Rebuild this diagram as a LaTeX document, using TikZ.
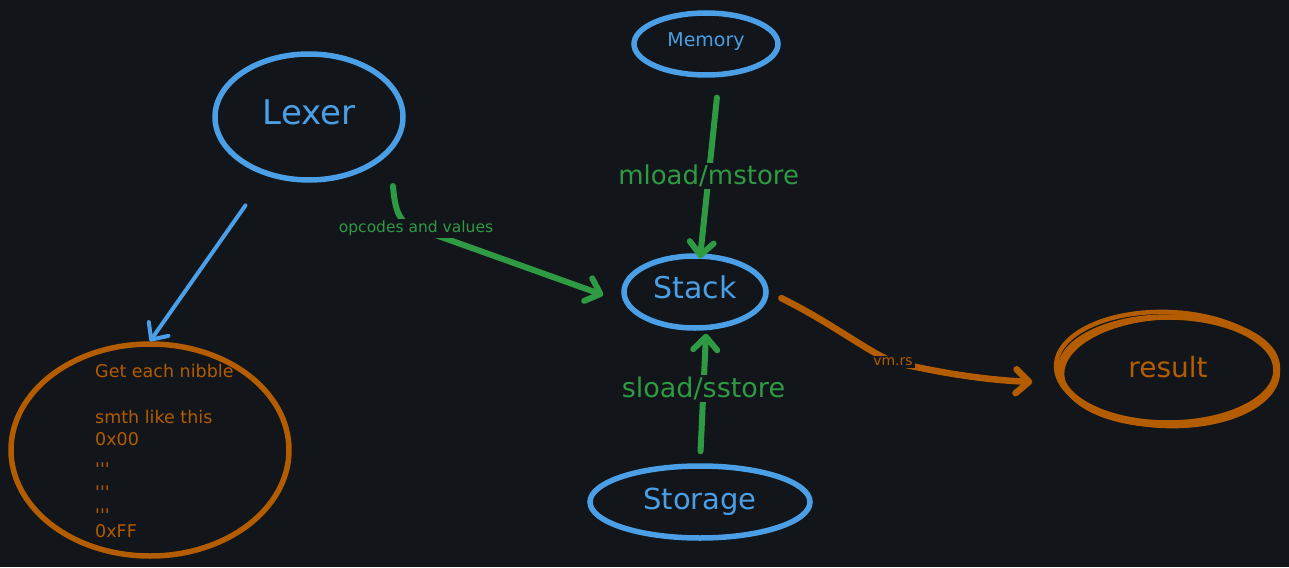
\documentclass[tikz,border=0pt]{standalone}
\usepackage{fontspec}
\setmainfont{DejaVu Sans}
\usetikzlibrary{arrows.meta,shapes.geometric}
\definecolor{bg}{HTML}{121519}
\definecolor{cblue}{HTML}{4A9FE6}
\definecolor{cgreen}{HTML}{2F9A44}
\definecolor{corange}{HTML}{B35C00}
\newcommand\fsz[1]{\fontsize{#1}{#1}\selectfont}
\newcommand\ticks{\raisebox{-7pt}{\textquotesingle\textquotesingle\textquotesingle}}
\newcommand\up[2]{\raisebox{#1}[\height][\depth]{#2}}
\begin{document}
\begin{tikzpicture}[x=1pt,y=-1pt,
  bubble/.style={ellipse, draw=cblue, line width=5.5pt, text=cblue, inner sep=0pt},
  obubble/.style={ellipse, draw=corange, line width=5.5pt, text=corange, inner sep=0pt},
  tipbarb/.style={-{Straight Barb[length=13pt,width=24pt,round]}},
  gconn/.style={draw=cgreen, line width=6pt, line cap=round, tipbarb},
  bconn/.style={draw=cblue, line width=4pt, line cap=round, tipbarb},
  oconn/.style={draw=corange, line width=6.5pt, line cap=round, tipbarb},
  glbl/.style={fill=bg, inner sep=2pt, text=cgreen},
  olbl/.style={fill=bg, inner sep=2pt, text=corange, font=\fsz{14}}]
\fill[bg] (0,0) rectangle (1289,567);
\useasboundingbox (0,0) rectangle (1289,567);

\node[bubble, minimum width=188, minimum height=126, font=\fsz{34}] (lexer) at (309,117) {\up{5pt}{Lexer}};
\node[bubble, minimum width=144, minimum height=62, font=\fsz{19}] (mem) at (706,44) {\up{2pt}{Memory}};
\node[bubble, minimum width=142, minimum height=72, font=\fsz{30}] (stack) at (695,292) {\up{5pt}{Stack}};
\node[bubble, minimum width=220, minimum height=72, font=\fsz{29}] (storage) at (700,502) {Storage};
\node[obubble, minimum width=216, minimum height=106, font=\fsz{28}] (result) at (1168,370) {\up{3pt}{result}};
\draw[corange, line width=4.5pt] ([shift={(-1,-1)}]result.center) ellipse [x radius=111, y radius=57, rotate=-2];
\draw[corange, line width=4.5pt] ([shift={(2,1)}]result.center) ellipse [x radius=108, y radius=54, rotate=2];
\node[obubble, minimum width=278, minimum height=212] (nibble) at (150,450) {};
\node[anchor=north west, align=left, text=corange, inner sep=0pt,
      font=\fontsize{17.5}{22.8}\selectfont] (nibtext) at (95,364)
  {Get each nibble\\[22.8pt]smth like this\\0x00\\
   \ticks\\ \ticks\\ \ticks\\0xFF};

\draw[bconn, shorten <=36] (lexer.-126) -- (nibble.north);

\coordinate (c1) at (393,186);
\draw[gconn] (c1) .. controls (395,212) and (400,224) .. (416,228)
  node[glbl, font=\fsz{15.5}] {opcodes and values}
  -- ([shift={(-18,3)}]stack.west);

\draw[gconn, shorten <=20] ([shift={(13,0)}]mem.south) --
  node[pos=0.545, glbl, font=\fsz{26}] {mload/mstore} ([shift={(5,5)}]stack.north);

\draw[gconn, shorten <=12] (storage.north) --
  node[pos=0.574, glbl, font=\fsz{27}] {sload/sstore} ([shift={(11,3)}]stack.south);

\draw[oconn, shorten <=14] (stack.east) .. controls (830,322) and (865,350) .. (893,362)
  node[olbl] {vm.rs}
  .. controls (950,375) and (990,380) .. ([shift={(-25,12)}]result.west);
\end{tikzpicture}
\end{document}
